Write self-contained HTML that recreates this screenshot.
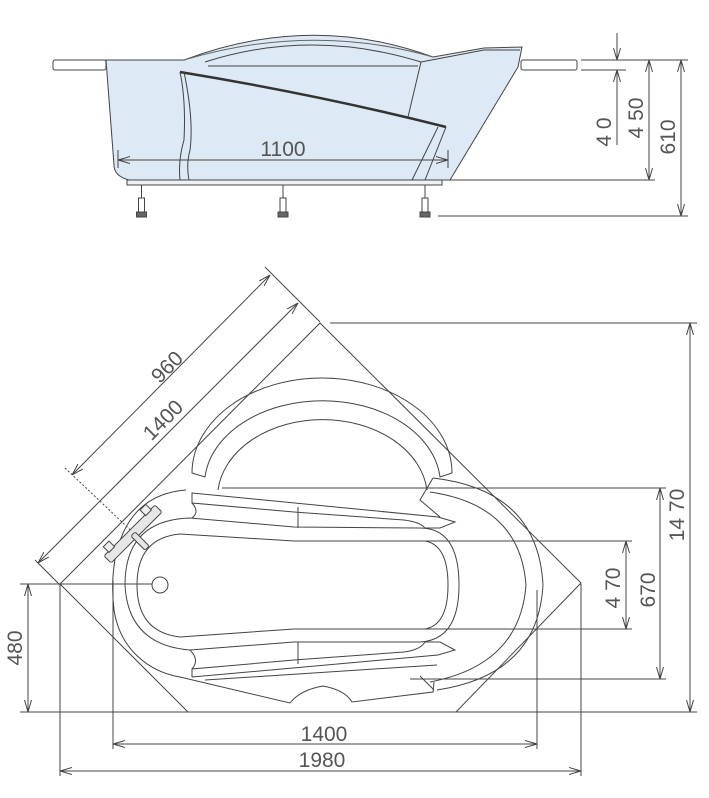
<!DOCTYPE html>
<html><head><meta charset="utf-8"><style>
html,body{margin:0;padding:0;background:#fff;}
svg{display:block;}
text{font-family:"Liberation Sans",sans-serif;fill:#555;font-size:21px;}
</style></head><body>
<svg width="709" height="798" viewBox="0 0 709 798" xmlns="http://www.w3.org/2000/svg">
<defs>
<marker id="a" viewBox="0 0 12 8" refX="12" refY="4" markerWidth="12" markerHeight="8" orient="auto-start-reverse" markerUnits="userSpaceOnUse">
<path d="M0,0.5 L12,4 L0,7.5" fill="none" stroke="#444" stroke-width="1"/>
</marker>
</defs>
<g fill="none" stroke="#444" stroke-width="1">
<!-- ===== ELEVATION ===== -->
<rect x="53" y="60" width="53" height="10" rx="2" fill="#fff"/>
<rect x="521" y="60" width="56" height="10" rx="2" fill="#fff"/>
<path d="M184,60 Q311,12 433,57 L484,48 L522,47 L518,67 L450,180 L129,180 Q114,176 114,165 L106,60 Z" fill="#dde9f4"/>
<path d="M205,62 Q311,28 421,62" />
<path d="M208,66 L418,66"/>
<path d="M184,60 Q311,22 433,57" stroke="#666"/>
<path d="M421,62 L484,50 L520,50"/>
<path d="M180,72 Q320,95 446,127" stroke="#333" stroke-width="2.5"/>
<path d="M180,72 Q186,100 184,140 Q178,160 180,180"/>
<path d="M184,72 Q194,120 190,150 Q186,165 189,180"/>
<path d="M446,127 L425,180"/>
<path d="M438,127 L412,180"/>
<path d="M421,62 L408,117"/>
<rect x="127" y="180" width="315" height="5" fill="#eef2f6"/>
<g fill="#fff">
<path d="M141.5,185 v15 M283,185 v15 M425,185 v15"/>
<rect x="138.5" y="198" width="6" height="15"/>
<rect x="280" y="198" width="6" height="15"/>
<rect x="422" y="198" width="6" height="15"/>
<rect x="136.5" y="212" width="10" height="5" fill="#666"/>
<rect x="278" y="212" width="10" height="5" fill="#666"/>
<rect x="420" y="212" width="10" height="5" fill="#666"/>
</g>
<line x1="118" y1="160" x2="448" y2="160" marker-start="url(#a)" marker-end="url(#a)"/>
<line x1="118" y1="150" x2="118" y2="168"/><line x1="448" y1="150" x2="448" y2="168"/>
<line x1="581" y1="60" x2="688" y2="60"/>
<line x1="581" y1="70" x2="626" y2="70"/>
<line x1="450" y1="180" x2="655" y2="180"/>
<line x1="438" y1="216" x2="688" y2="216"/>
<line x1="617" y1="33" x2="617" y2="60" marker-end="url(#a)"/>
<line x1="617" y1="98" x2="617" y2="70" marker-end="url(#a)"/>
<line x1="617" y1="70" x2="617" y2="145"/>
<line x1="649" y1="60" x2="649" y2="180" marker-start="url(#a)" marker-end="url(#a)"/>
<line x1="681" y1="60" x2="681" y2="216" marker-start="url(#a)" marker-end="url(#a)"/>
</g>
<text x="283" y="156" text-anchor="middle">1100</text>
<text transform="translate(611,132) rotate(-90)" text-anchor="middle">4 0</text>
<text transform="translate(643,118) rotate(-90)" text-anchor="middle">4 50</text>
<text transform="translate(675,137) rotate(-90)" text-anchor="middle">610</text>

<!-- ===== PLAN ===== -->
<g fill="none" stroke="#444" stroke-width="1">
<path d="M320,323 L581,583 L456,712 L188,712 L60,584 Z"/>
<line x1="265" y1="267" x2="320" y2="322"/>
<line x1="72" y1="475" x2="270" y2="275" marker-start="url(#a)" marker-end="url(#a)"/>
<line x1="38" y1="563" x2="298" y2="303" marker-start="url(#a)" marker-end="url(#a)"/>
<line x1="35" y1="560" x2="60" y2="585"/>
<line x1="65" y1="468" x2="143" y2="542" stroke-dasharray="2,2"/>
<!-- top arch -->
<path d="M192,473 A130,95 0 0 1 452,473 L440,477 A118,84 0 0 0 205,477 Z"/>
<path d="M218,490 A105,78 0 0 1 427,490"/>
<!-- outer rim -->
<path d="M186,490 C120,495 108,560 114,610 C120,650 150,672 180,677 L290,703 Q300,690 323,686 Q345,690 352,702 L433,692 L434,682"/>
<path d="M433,478 Q538,490 543,585 Q538,675 437,690"/>
<path d="M430,492 Q520,505 526,585 Q520,665 430,682"/>
<!-- second ring -->
<path d="M190,518 Q125,520 125,585 Q128,645 190,650 L294,642 L420,642 Q459,640 459,585 Q459,528 420,528 L294,527 Z"/>
<!-- inner bowl -->
<path d="M180,534 L294,541 L425,541 Q448,545 448,585 Q448,625 425,629 L294,629 L180,637 Q137,632 137,585 Q137,538 180,534 Z"/>
<!-- top seat -->
<path d="M192,493 L438,517 L455,522 L440,528 L425,528 Q420,522 404,520 L294,512 L192,503 Z"/>
<path d="M192,503 Q200,512 192,518"/>
<line x1="298" y1="507" x2="298" y2="528"/>
<path d="M433,478 L420,500 L440,517"/>
<!-- bottom seat -->
<path d="M192,677 L438,655 L455,650 L440,642 L425,642 Q420,650 404,652 L294,660 L192,669 Z"/>
<path d="M192,669 Q200,660 190,650"/>
<line x1="298" y1="642" x2="298" y2="664"/>
<path d="M205,680 L437,665"/>
<path d="M420,676 L434,690"/>
<circle cx="160" cy="585" r="8"/>
<g transform="translate(133,534) rotate(-45)" fill="#e6e6e6">
<rect x="-36" y="-5" width="72" height="10" rx="2"/>
<rect x="-3" y="0" width="6" height="20" rx="2"/>
<rect x="-30" y="-12" width="8" height="8" fill="#eee"/>
<rect x="22" y="-12" width="8" height="8" fill="#eee"/>
</g>
<line x1="330" y1="323" x2="697" y2="323"/>
<line x1="690" y1="323" x2="690" y2="712" marker-start="url(#a)" marker-end="url(#a)"/>
<line x1="456" y1="712" x2="697" y2="712"/>
<line x1="222" y1="488" x2="666" y2="488"/>
<line x1="425" y1="541" x2="632" y2="541"/>
<line x1="425" y1="629" x2="632" y2="629"/>
<line x1="410" y1="679" x2="666" y2="679"/>
<line x1="660" y1="488" x2="660" y2="679" marker-start="url(#a)" marker-end="url(#a)"/>
<line x1="626" y1="541" x2="626" y2="629" marker-start="url(#a)" marker-end="url(#a)"/>
<line x1="20" y1="584" x2="152" y2="584"/>
<line x1="20" y1="712" x2="188" y2="712"/>
<line x1="28" y1="584" x2="28" y2="712" marker-start="url(#a)" marker-end="url(#a)"/>
<line x1="113" y1="580" x2="113" y2="749"/>
<line x1="537" y1="590" x2="537" y2="749"/>
<line x1="113" y1="744" x2="537" y2="744" marker-start="url(#a)" marker-end="url(#a)"/>
<line x1="60" y1="584" x2="60" y2="776"/>
<line x1="581" y1="584" x2="581" y2="776"/>
<line x1="60" y1="771" x2="581" y2="771" marker-start="url(#a)" marker-end="url(#a)"/>
</g>
<text transform="translate(172,372) rotate(-45)" text-anchor="middle">960</text>
<text transform="translate(168,425) rotate(-45)" text-anchor="middle">1400</text>
<text transform="translate(684,515) rotate(-90)" text-anchor="middle">14 70</text>
<text transform="translate(655,590) rotate(-90)" text-anchor="middle">670</text>
<text transform="translate(620,588) rotate(-90)" text-anchor="middle">4 70</text>
<text transform="translate(22,648) rotate(-90)" text-anchor="middle">480</text>
<text x="324" y="741" text-anchor="middle">1400</text>
<text x="322" y="767" text-anchor="middle">1980</text>
</svg>
</body></html>
